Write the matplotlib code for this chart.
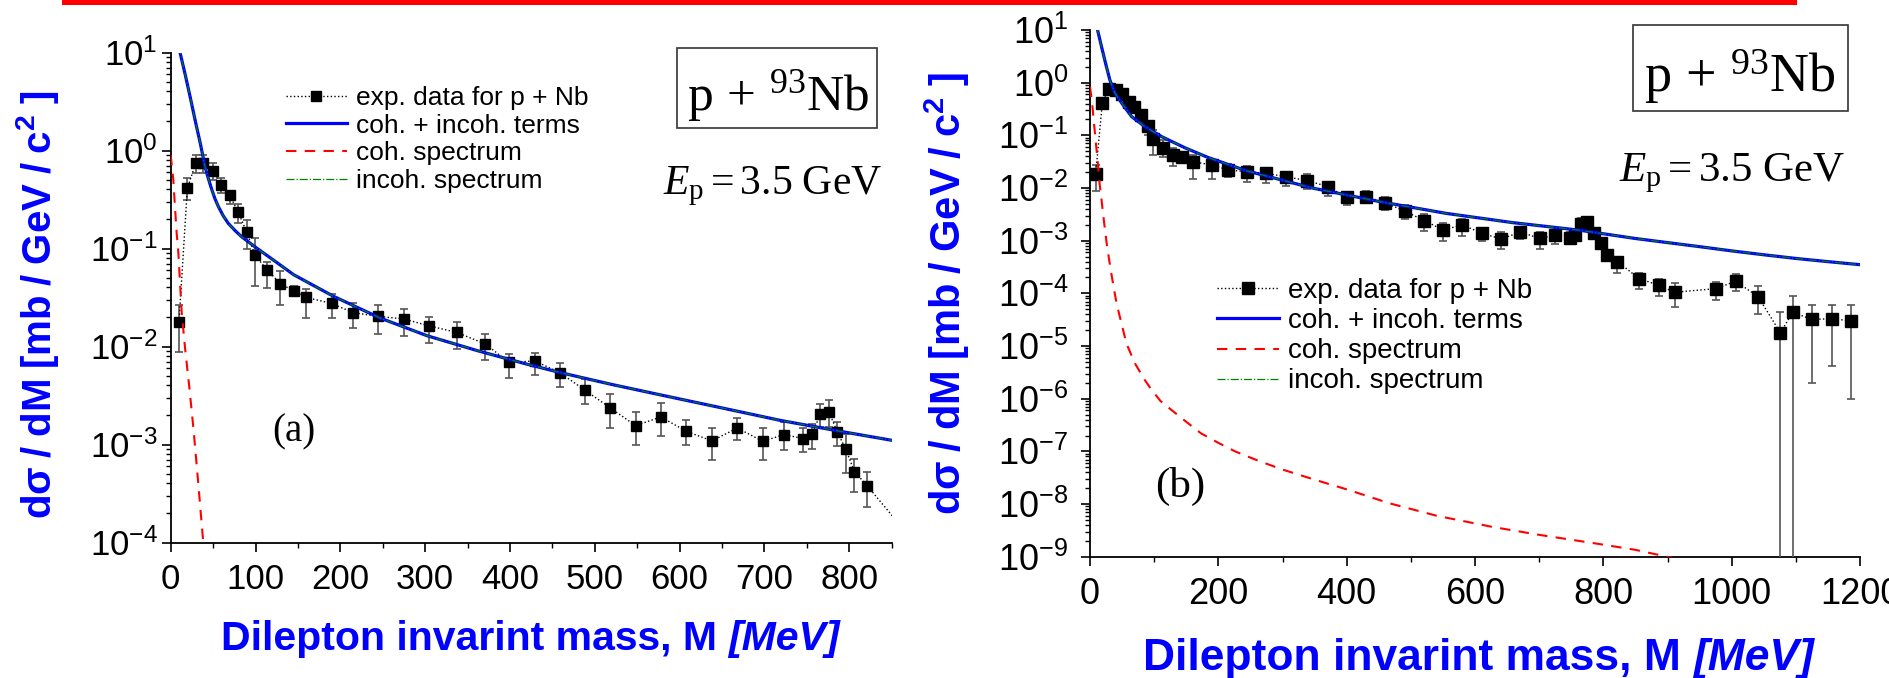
import numpy as np
import matplotlib
matplotlib.use('Agg')
import matplotlib.pyplot as plt
from matplotlib.patches import Rectangle
from matplotlib.ticker import LogLocator, FuncFormatter, NullFormatter, MultipleLocator

plt.rcParams['font.family'] = ['Liberation Sans', 'DejaVu Sans']
plt.rcParams['mathtext.fontset'] = 'custom'
plt.rcParams['mathtext.rm'] = 'Liberation Serif'
plt.rcParams['mathtext.it'] = 'Liberation Serif:italic'
plt.rcParams['mathtext.bf'] = 'Liberation Serif:bold'

# ---------------- panel (a) ----------------
M_a = [9.8, 19.6, 29.5, 38.5, 49.6, 59.4, 69.6, 79.5, 89.7, 99.5, 114, 129.4, 144.8,
       159.7, 189.6, 214.8, 244.7, 275, 305, 337.6, 371, 399, 429, 459, 488, 518, 548,
       578, 608, 638, 668, 698, 723, 746, 756, 766, 776, 786, 796, 806, 821, 866]
dat_a = [0.0177, 0.41, 0.74, 0.74, 0.62, 0.44, 0.35, 0.235, 0.147, 0.085, 0.060, 0.0437,
         0.037, 0.0317, 0.0275, 0.0222, 0.0203, 0.0191, 0.0162, 0.0139, 0.0106, 0.00687,
         0.00713, 0.0054, 0.0036, 0.00237, 0.00156, 0.00191, 0.00136, 0.00109, 0.00147,
         0.00108, 0.00126, 0.00115, 0.00127, 0.00206, 0.00214, 0.00134, 0.00089, 0.00053,
         0.00038, 0.00013]
lo_a = [0.00869, 0.311, 0.585, 0.585, 0.501, 0.37, 0.287, 0.182, 0.099, 0.0418, 0.0398,
        0.0265, 0.0324, 0.0195, 0.0195, 0.0156, 0.0134, 0.0129, 0.01096, 0.0095, 0.00723,
        0.00482, 0.00507, 0.00385, 0.00257, 0.00147, 0.001, 0.00122, 0.00098, 0.000687,
        0.0011, 0.000687, 0.00087, 0.00084, 0.00089, 0.00151, 0.00151, 0.00096, 0.00051,
        0.00033, 0.00023, 0.00008]
hi_a = [0.0265, 0.528, 0.895, 0.895, 0.753, 0.528, 0.389, 0.287, 0.195, 0.128, 0.0731,
        0.0596, 0.0418, 0.0385, 0.0341, 0.0279, 0.0265, 0.0244, 0.0201, 0.0177, 0.0133,
        0.00841, 0.00859, 0.00673, 0.00468, 0.00325, 0.00214, 0.00265, 0.00177, 0.00147,
        0.00186, 0.00147, 0.0017, 0.00147, 0.0016, 0.0026, 0.00286, 0.0017, 0.00127,
        0.00071, 0.00052, 0.00018]

Mtot_a = [10.5, 11, 17, 23, 29, 35, 40.5, 44, 48, 52, 56, 62, 68, 76, 84, 100, 119, 145,
          192, 247, 302, 361, 420, 460, 520, 578, 650, 719, 790, 851]
tot_a = [11.5, 10.0, 6.0, 3.5, 2.0, 1.17, 0.68, 0.53, 0.41, 0.325, 0.27, 0.215, 0.18,
         0.152, 0.131, 0.103, 0.0785, 0.054, 0.0325, 0.0195, 0.0129, 0.0091, 0.0066,
         0.0054, 0.0041, 0.0032, 0.00236, 0.00176, 0.00136, 0.0011]
incoh_a = tot_a
Mcoh_a = [0, 3, 5, 7, 9, 11, 13, 17, 22, 27, 32, 38, 40]
coh_a = [0.9, 0.51, 0.27, 0.145, 0.091, 0.045, 0.022, 0.0095, 0.0038, 0.0014, 0.00045,
         0.00011, 0.000075]

# ---------------- panel (b) ----------------
M_b = [8.8, 19.2, 29.6, 40.0, 50.4, 60.8, 69.2, 79.4, 89.8, 98.7, 114.3, 129.8, 142.8,
       159.9, 190.6, 215.5, 245, 275, 305, 338.6, 371.2, 399.8, 429.9, 459.5, 490.7,
       520.8, 550.5, 580.5, 610.6, 641.2, 670.8, 701, 724.3, 747.7, 756, 765, 775, 786,
       796, 806, 822, 856, 886, 911, 976, 1006, 1041, 1076, 1095, 1125, 1156, 1186]
dat_b = [0.0185, 0.417, 0.748, 0.727, 0.61, 0.436, 0.34, 0.243, 0.15, 0.085, 0.0583,
         0.0423, 0.0394, 0.0316, 0.0273, 0.022, 0.0204, 0.019, 0.0164, 0.0138, 0.0106,
         0.00665, 0.00684, 0.00525, 0.00366, 0.0024, 0.0016, 0.002, 0.00138, 0.00108,
         0.00146, 0.0011, 0.00126, 0.00114, 0.00126, 0.0021, 0.00226, 0.00139, 0.00091,
         0.00054, 0.0004, 0.00019, 0.000143, 0.000105, 0.000123, 0.00017, 0.000087,
         0.0000178, 0.0000436, 0.000032, 0.000033, 0.00003]
lo_b = [0.0089, 0.326, 0.62, 0.62, 0.53, 0.38, 0.30, 0.21, 0.101, 0.0423, 0.0394, 0.0266,
        0.0294, 0.0148, 0.0148, 0.016, 0.0132, 0.0126, 0.0111, 0.00944, 0.00714, 0.00467,
        0.0051, 0.0038, 0.00255, 0.0015, 0.001, 0.00125, 0.001, 0.000686, 0.00108,
        0.000686, 0.00087, 0.00085, 0.00105, 0.0017, 0.0017, 0.0011, 0.00073, 0.00041,
        0.00024, 0.00012, 0.000089, 0.000055, 0.000074, 0.000113, 0.00004, 0.0, 0.0,
        0.000002, 0.0000041, 0.000001]
hi_b = [0.0273, 0.52, 0.90, 0.86, 0.70, 0.50, 0.39, 0.28, 0.18, 0.126, 0.0816, 0.0567,
        0.049, 0.0423, 0.034, 0.0286, 0.0266, 0.0245, 0.0204, 0.0182, 0.0132, 0.00817,
        0.0089, 0.00684, 0.0048, 0.00323, 0.00214, 0.00262, 0.0017, 0.00144, 0.00185,
        0.00144, 0.00158, 0.00144, 0.0015, 0.0027, 0.0028, 0.0017, 0.0011, 0.00068,
        0.00049, 0.00024, 0.00019, 0.00016, 0.000166, 0.00023, 0.00014, 0.000044,
        0.000089, 0.000061, 0.000061, 0.000061]

Mtot_b = [11, 11.8, 18, 24.4, 31, 39, 49.4, 65, 85.7, 112, 148, 184, 223, 244, 348, 452,
          555, 659, 763, 850, 900, 950, 1000, 1050, 1100, 1150, 1200]
tot_b = [11.5, 10.0, 4.8, 2.3, 1.12, 0.63, 0.41, 0.226, 0.146, 0.094, 0.058, 0.038,
         0.026, 0.0212, 0.0099, 0.0055, 0.0033, 0.0022, 0.00158, 0.0011, 0.00092,
         0.00077, 0.00064, 0.00054, 0.00046, 0.0004, 0.00035]
incoh_b = tot_b
Mcoh_b = [0, 3, 6, 9, 12, 15, 18, 22, 26, 30, 34, 40, 44, 50, 57, 70, 85, 96, 110, 127,
          148, 173, 200, 226, 260, 298, 350, 400, 467, 540, 626, 700, 786, 850, 899, 950]
coh_b = [0.84, 0.45, 0.18, 0.075, 0.032, 0.012, 0.0059, 0.0022, 0.00089, 0.00042,
         0.00021, 8e-5, 4.8e-5, 2.4e-5, 1.1e-5, 4.7e-6, 2.3e-6, 1.47e-6, 9e-7, 6.1e-7,
         3.8e-7, 2.2e-7, 1.45e-7, 1e-7, 6.8e-8, 4.6e-8, 2.9e-8, 1.9e-8, 1.03e-8, 6e-9,
         3.7e-9, 2.6e-9, 1.8e-9, 1.35e-9, 1.0e-9, 7.5e-10]

labels = ['exp. data for p + Nb', 'coh. + incoh. terms', 'coh. spectrum', 'incoh. spectrum']

W, H = 1890, 678
fig = plt.figure(figsize=(W / 100, H / 100), dpi=100)
renderer = fig.canvas.get_renderer()


def fbox(x0, y0, x1, y1):
    # pixel box (top-left origin) -> figure fraction rect
    return [x0 / W, 1 - y1 / H, (x1 - x0) / W, (y1 - y0) / H]


def fxy(x, y):
    return x / W, 1 - y / H


def draw_panel(ax, M, dat, lo, hi, Mt, tot, inc, Mc, coh, ms):
    dat = np.array(dat)
    yerr = [dat - np.array(lo), np.array(hi) - dat]
    ax.errorbar(M, dat, yerr=yerr, fmt='none', ecolor='#555555', elinewidth=1.2,
                capsize=3, capthick=1.2, zorder=3)
    ax.plot(M, dat, ls=':', color='black', lw=1, marker='s', ms=ms, mfc='black',
            mec='black', label=labels[0], zorder=4)
    ax.plot(Mt, tot, color='#0000ff', lw=2.3, label=labels[1], zorder=5)
    ax.plot(Mc, coh, color='#ff0000', lw=1.5, ls=(0, (5, 4)), label=labels[2], zorder=5)
    ax.plot(Mt, inc, color='#008000', lw=0.9, ls='-.', label=labels[3], zorder=6)


def style_axes(ax, xmax, major, minor, ymin, ymax, fs, ypad):
    ax.set_yscale('log')
    ax.set_xlim(0, xmax)
    ax.set_ylim(ymin, ymax)
    for s in ('top', 'right'):
        ax.spines[s].set_visible(False)
    for s in ('left', 'bottom'):
        ax.spines[s].set_linewidth(1.3)
    ax.xaxis.set_major_locator(MultipleLocator(major))
    ax.xaxis.set_minor_locator(MultipleLocator(minor))
    ax.yaxis.set_major_locator(LogLocator(base=10, numticks=30))
    ax.yaxis.set_minor_locator(LogLocator(base=10, subs=np.arange(2, 10), numticks=30))
    ax.yaxis.set_minor_formatter(NullFormatter())
    ax.yaxis.set_major_formatter(FuncFormatter(
        lambda v, p: r'$\mathregular{10^{%d}}$' % int(round(np.log10(v)))))
    ax.tick_params(which='major', direction='out', length=6.5, width=1.2, labelsize=fs)
    ax.tick_params(which='minor', direction='out', length=3.6, width=1.0)
    ax.tick_params(axis='x', which='major', pad=8)
    ax.tick_params(axis='y', which='major', pad=ypad)


def xlabel_fit(x0, x1, ybase, size0):
    # bold label plus bold-italic unit, scaled to span x0..x1 pixels
    kw = dict(weight='bold', color='#0000ff', va='baseline', ha='left')
    t1 = fig.text(*fxy(x0, ybase), 'Dilepton invarint mass, M', size=size0, **kw)
    t2 = fig.text(*fxy(x0, ybase), '[MeV]', size=size0, style='italic', **kw)
    gap = 0.278 * size0 * 100 / 72
    w = t1.get_window_extent(renderer).width + t2.get_window_extent(renderer).width + gap
    s = size0 * (x1 - x0) / w
    t1.set_size(s)
    t2.set_size(s)
    w1 = t1.get_window_extent(renderer).width
    t2.set_position(fxy(x0 + w1 + 0.278 * s * 100 / 72, ybase))


ax_a = fig.add_axes(fbox(170.7, 52.5, 891.7, 542.5))
draw_panel(ax_a, M_a, dat_a, lo_a, hi_a, Mtot_a, tot_a, incoh_a, Mcoh_a, coh_a, 7.5)
style_axes(ax_a, 850, 100, 50, 1e-4, 10, 25, 3)

ax_b = fig.add_axes(fbox(1090, 30, 1860, 556.7))
draw_panel(ax_b, M_b, dat_b, lo_b, hi_b, Mtot_b, tot_b, incoh_b, Mcoh_b, coh_b, 8.5)
style_axes(ax_b, 1200, 200, 100, 1e-9, 10, 26, 9)

ax_a.legend(loc='upper left', bbox_to_anchor=fxy(286, 86), bbox_transform=fig.transFigure,
            frameon=False, fontsize=19, borderpad=0, borderaxespad=0, handlelength=2.3,
            handletextpad=0.35, labelspacing=0.14, numpoints=1)
ax_b.legend(loc='upper left', bbox_to_anchor=fxy(1217, 278), bbox_transform=fig.transFigure,
            frameon=False, fontsize=20, borderpad=0, borderaxespad=0, handlelength=2.25,
            handletextpad=0.3, labelspacing=0.15, numpoints=1)

# red bar along the top
fig.patches.append(Rectangle(fxy(62, 5), (1797 - 62) / W, 5 / H, transform=fig.transFigure,
                             facecolor='#ff0000', edgecolor='none'))

# reaction boxes
for (x0, y0, x1, y1) in [(677, 47.5, 877, 128), (1633, 25, 1848, 111)]:
    fig.patches.append(Rectangle(fxy(x0, y1), (x1 - x0) / W, (y1 - y0) / H,
                                 transform=fig.transFigure, facecolor='none',
                                 edgecolor='#333333', lw=1.2))
reac = r'$\mathregular{p\,+\,{}^{93}Nb}$'
fig.text(*fxy(778, 110), reac, family='Liberation Serif', size=37, ha='center', va='baseline')
fig.text(*fxy(1740, 92), reac, family='Liberation Serif', size=39, ha='center', va='baseline')

ep = r'$\mathit{E}_{\mathregular{p}}\mathregular{=3.5\ GeV}$'
fig.text(*fxy(663, 194), ep, family='Liberation Serif', size=30, ha='left', va='baseline')
fig.text(*fxy(1619, 181), ep, family='Liberation Serif', size=31, ha='left', va='baseline')

fig.text(*fxy(294, 432), '(a)', family='Liberation Serif', size=28, ha='center', va='center')
fig.text(*fxy(1180, 486), '(b)', family='Liberation Serif', size=31, ha='center', va='center')

ylab = r'$\mathregular{d\sigma\ /\ dM\ [mb\ /\ GeV\ /\ c^{2}\ ]}$'
fig.text(*fxy(38, 305), ylab, rotation=90, ha='center', va='center', size=29,
         weight='bold', color='#0000ff')
fig.text(*fxy(947, 294), ylab, rotation=90, ha='center', va='center', size=30,
         weight='bold', color='#0000ff')

xlabel_fit(221, 842, 650, 28)
xlabel_fit(1143, 1813, 670, 30)

fig.savefig('out.png', dpi=100)
